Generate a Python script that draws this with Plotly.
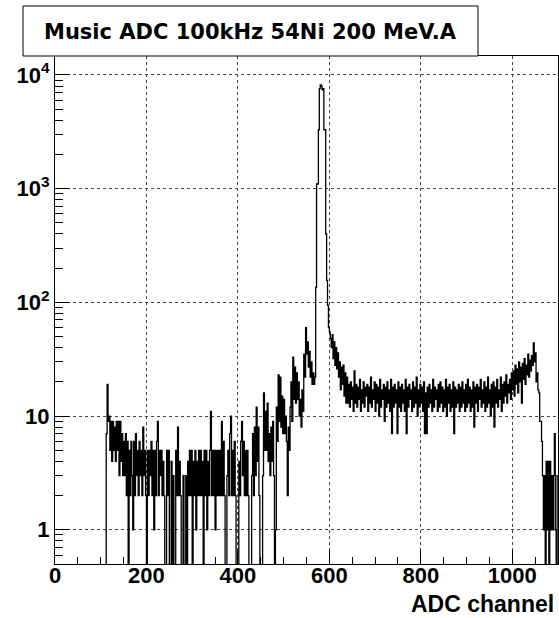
import math
import plotly.graph_objects as go

# ---- data (ADC channel histogram, 2-channel bins starting at channel 112) ----
bin_start = 112
bin_width = 2

counts_112_198 = [7, 19, 9, 10, 5, 9, 4, 9, 5, 8, 4, 9, 5, 9, 3, 9, 4, 7, 3, 6,
                  3, 7, 2, 6, 0, 5, 2, 6, 3, 1, 6, 2, 7, 3, 5, 2, 6, 3, 5, 2,
                  8, 3, 5, 2]
counts_200_298 = [0, 5, 2, 5, 3, 6, 2, 5, 1, 5, 2, 6, 9, 2, 5, 3, 5, 2, 4, 2,
                  0, 0, 5, 2, 5, 0, 0, 4, 0, 3, 0, 0, 5, 2, 8, 2, 4, 2, 0, 0,
                  3, 0, 0, 3, 0, 4, 2, 5, 2, 5]
counts_300_398 = [0, 4, 2, 5, 1, 4, 2, 5, 2, 5, 2, 4, 0, 5, 2, 5, 1, 4, 2, 5,
                  11, 2, 5, 2, 5, 1, 5, 2, 5, 2, 5, 2, 9, 2, 6, 2, 0, 0, 3, 5,
                  2, 7, 10, 2, 5, 2, 6, 2, 0, 0]
counts_400_498 = [0, 4, 2, 6, 9, 3, 6, 2, 5, 2, 5, 2, 0, 0, 0, 3, 7, 2, 8, 3,
                  12, 4, 8, 2, 0, 0, 0, 3, 16, 5, 11, 5, 13, 4, 7, 3, 8, 4, 9, 3,
                  0, 1, 12, 6, 23, 9, 22, 8, 15, 7]
counts_500_566 = [14, 7, 10, 6, 2, 8, 5, 12, 20, 9, 33, 14, 27, 13, 24, 14, 20, 10, 14, 8,
                  17, 11, 35, 22, 60, 35, 45, 27, 37, 22, 30, 19, 24, 19]
counts_peak_568_602 = [22, 136, 1100, 1100, 3300, 7600, 8200, 8000, 7400, 7600,
                       3300, 3300, 400, 156, 94, 60, 55, 48]
counts_tail_604_638 = [40, 52, 32, 45, 28, 40, 26, 36, 22, 30, 17, 27, 19, 28, 15, 24, 13, 22]
counts_640_1046 = [
    13, 19, 12, 20, 14, 18, 11, 25, 13, 19, 12, 18, 14, 21, 11, 17, 13, 20, 12, 18,
    15, 19, 11, 18, 13, 22, 12, 17, 14, 20, 11, 19, 13, 18, 10, 21, 12, 17, 14, 19,
    9, 18, 12, 20, 13, 17, 11, 21, 7, 18, 12, 19, 13, 17, 7, 20, 12, 18, 11, 19,
    13, 17, 11, 21, 7, 18, 12, 19, 14, 17, 11, 20, 12, 18, 13, 22, 10, 17, 12, 19,
    13, 18, 11, 20, 7, 16, 7, 18, 12, 19, 13, 17, 11, 21, 12, 18, 14, 17, 11, 19,
    12, 20, 13, 18, 11, 17, 12, 21, 10, 18, 13, 19, 11, 17, 12, 20, 7, 18, 12, 17,
    13, 19, 11, 18, 12, 20, 13, 17, 11, 19, 12, 21, 13, 18, 11, 17, 12, 20, 8, 18,
    13, 19, 11, 18, 14, 21, 12, 17, 13, 20, 11, 18, 12, 22, 13, 17, 10, 19, 12, 20,
    8, 18, 13, 21, 12, 17, 14, 22, 11, 19, 13, 20, 15, 23, 13, 19, 16, 21, 14, 24,
    17, 25, 15, 28, 19, 26, 16, 30, 20, 27, 13, 29, 21, 32, 19, 28, 23, 35, 22, 31,
    25, 34, 28, 44,
]
counts_1048_1098 = [30, 36, 20, 24, 17, 16, 9, 9, 6, 3, 1, 3, 0, 4, 1, 4, 0, 4, 1, 3,
                    1, 3, 7, 1, 0, 3]

x_ticks = [0, 200, 400, 600, 800, 1000]
y_ticks = [1, 10, 100, 1000, 10000]
y_tick_text = ["1", "10", "10<sup>2</sup>", "10<sup>3</sup>", "10<sup>4</sup>"]
y_minor = [m * 10 ** k for k in range(-1, 4) for m in range(2, 10) if 0.5 < m * 10 ** k < 14000]

title_text = "Music ADC 100kHz 54Ni 200 MeV.A"
x_title = "ADC channel"

# ---- build histogram outline ----
counts = (counts_112_198 + counts_200_298 + counts_300_398 + counts_400_498
          + counts_500_566 + counts_peak_568_602 + counts_tail_604_638
          + counts_640_1046 + counts_1048_1098)
edges = [bin_start + bin_width * i for i in range(len(counts) + 1)]
floor = 0.05  # empty bins drop below the log-axis minimum
ys = [c if c > 0 else floor for c in counts]
x_line = [edges[0]] + edges[:-1] + [edges[-1]]
y_line = [floor] + ys + [ys[-1]]

W, H = 559, 618
L, R, T, B = 55, 1, 56, 54
pw, ph = W - L - R, H - T - B
X_RANGE = [0, 1100]


def px2x(px):
    return (px - L) / pw


def py2y(py):
    return (H - B - py) / ph


fig = go.Figure()
fig.add_trace(go.Scatter(x=x_line, y=y_line, mode="lines",
                         line=dict(shape="hv", color="black", width=1.3),
                         hoverinfo="skip"))
# invisible copy bound to the label axis so that it is drawn
fig.add_trace(go.Scatter(x=x_line, y=y_line, mode="lines", xaxis="x2",
                         line=dict(shape="hv", color="rgba(0,0,0,0)", width=0),
                         hoverinfo="skip"))

tickfont = dict(family="Liberation Sans, Arial, sans-serif", size=22, color="black", weight="bold")
grid = dict(showgrid=True, gridcolor="#444", griddash="dot", gridwidth=1)

fig.update_layout(
    width=W, height=H,
    margin=dict(l=L, r=R, t=T, b=B),
    paper_bgcolor="white", plot_bgcolor="white",
    showlegend=False,
    xaxis=dict(range=X_RANGE, tickmode="array", tickvals=x_ticks,
               ticks="inside", ticklen=14, tickwidth=1, tickcolor="black",
               showline=True, linecolor="black", linewidth=1, mirror=True,
               zeroline=False, showticklabels=False, **grid,
               minor=dict(dtick=50, tick0=0, ticks="inside", ticklen=7,
                          tickwidth=1, tickcolor="black", showgrid=False)),
    # label-only axis, lifted a few pixels to sit like the ROOT labels
    xaxis2=dict(range=X_RANGE, tickmode="array", tickvals=x_ticks, overlaying="x",
                anchor="free", position=4 / ph, side="bottom",
                ticks="", showline=False, showgrid=False, zeroline=False,
                tickfont=tickfont),
    yaxis=dict(type="log", range=[math.log10(0.5), 4.167], tickmode="array",
               tickvals=y_ticks, ticktext=y_tick_text,
               ticks="inside", ticklen=15, tickwidth=1, tickcolor="black",
               showline=True, linecolor="black", linewidth=1, mirror=True,
               zeroline=False, tickfont=tickfont, **grid,
               minor=dict(tickmode="array", tickvals=y_minor, ticks="inside", ticklen=8,
                          tickwidth=1, tickcolor="black", showgrid=False)),
)

# title pave
fig.add_shape(type="rect", xref="paper", yref="paper",
              x0=px2x(23), x1=px2x(478), y0=py2y(56), y1=py2y(6),
              line=dict(color="black", width=1), fillcolor="white", layer="above")
fig.add_annotation(text=title_text, xref="paper", yref="paper",
                   x=px2x(250.5), y=py2y(32), xanchor="center", yanchor="middle",
                   showarrow=False,
                   font=dict(family="DejaVu Sans, sans-serif", size=21, color="black", weight="bold"))
fig.add_annotation(text=x_title, xref="paper", yref="paper",
                   x=px2x(556), y=py2y(604), xanchor="right", yanchor="middle",
                   showarrow=False,
                   font=dict(family="Liberation Sans, Arial, sans-serif", size=23, color="black", weight="bold"))

fig.write_html("out.html", config={"displayModeBar": False},
               post_script="document.body.style.margin='0';")
